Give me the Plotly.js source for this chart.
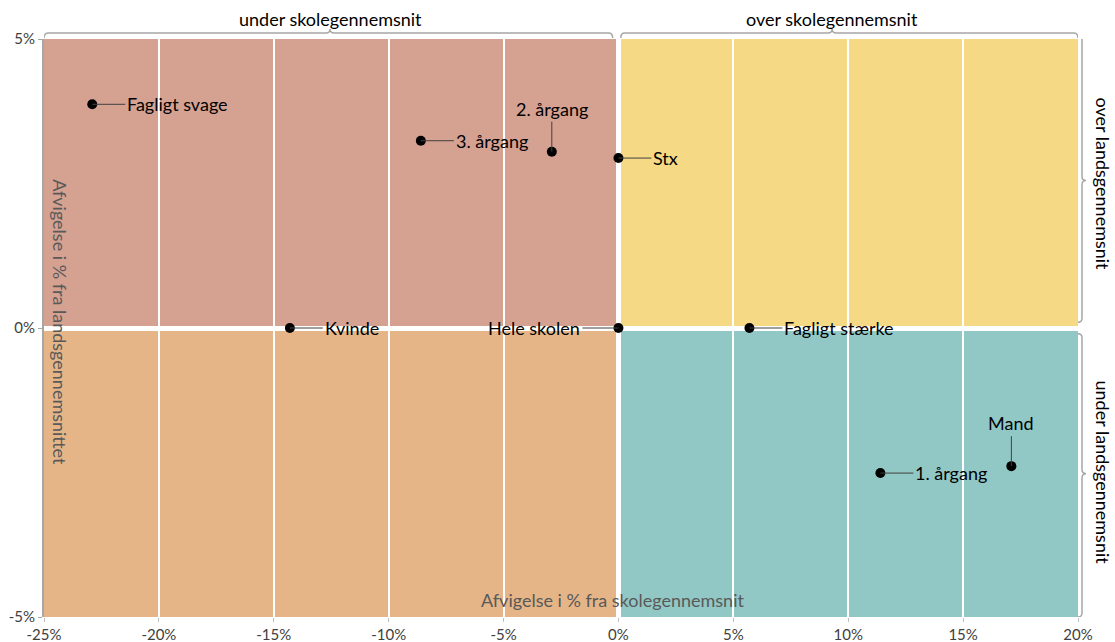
<!DOCTYPE html>
<html><head><meta charset="utf-8">
<script src="https://cdn.plot.ly/plotly-3.0.1.min.js"></script>
<style>html,body{margin:0;padding:0;background:#fff}#chart{width:1115px;height:642px}</style>
</head><body><div id="chart"></div>
<script>
// Data
var labels = ['Fagligt svage','3. årgang','2. årgang','Stx','Kvinde','Hele skolen','Fagligt stærke','1. årgang','Mand'];
var xSchool = [-22.9, -8.6, -2.9, 0, -14.3, 0, 5.7, 11.4, 17.1];
var yNation = [3.87, 3.24, 3.05, 2.94, 0, 0, 0, -2.51, -2.39];
var labelDir = ['right','right','up','right','right','left','right','right','up'];
var xTickVals = [-25,-20,-15,-10,-5,0,5,10,15,20];
var xTickText = ['-25%','-20%','-15%','-10%','-5%','0%','5%','10%','15%','20%'];
var yTickVals = [-5,0,5];
var yTickText = ['-5%','0%','5%'];
var quadColors = {ul:'#D5A191', ur:'#F5D985', ll:'#E5B588', lr:'#91C8C5'};
var xRange = [-25,20], yRange = [-5,5];

var FONT = 'Lato, "Open Sans", sans-serif';
var trace = {x:xSchool, y:yNation, mode:'markers', type:'scatter',
  marker:{color:'#000', size:10}, hoverinfo:'skip', cliponaxis:false};

var annotations = labels.map(function(t,i){
  var a = {x:xSchool[i], y:yNation[i], xref:'x', yref:'y', text:t, showarrow:true,
    arrowhead:0, arrowwidth:1, arrowcolor:'#404040', standoff:0,
    font:{family:FONT, size:18, color:'#000'}, borderpad:1};
  if(labelDir[i]==='right'){a.ax=33; a.ay=0; a.xanchor='left';}
  else if(labelDir[i]==='left'){a.ax=-36; a.ay=0; a.xanchor='right';}
  else {a.ax=0; a.ay=-30; a.yanchor='bottom';}
  return a;
});
var gray='#595959';
annotations.push(
  {xref:'paper', yref:'paper', x:0.0155, y:0.51, xanchor:'center', yanchor:'middle', text:'Afvigelse i % fra landsgennemsnittet', textangle:90,
   showarrow:false, font:{family:FONT, size:18, color:gray}},
  {xref:'paper', yref:'paper', x:0.550, y:0.029, xanchor:'center', yanchor:'middle', text:'Afvigelse i % fra skolegennemsnit',
   showarrow:false, font:{family:FONT, size:18, color:gray}},
  {xref:'x', yref:'paper', x:-12.55, y:1.0, yshift:20, xanchor:'center', yanchor:'middle', text:'under skolegennemsnit', showarrow:false,
   font:{family:FONT, size:18, color:'#000'}},
  {xref:'x', yref:'paper', x:9.3, y:1.0, yshift:20, xanchor:'center', yanchor:'middle', text:'over skolegennemsnit', showarrow:false,
   font:{family:FONT, size:18, color:'#000'}},
  {xref:'paper', yref:'y', x:1.0, xshift:25, y:2.5, xanchor:'center', yanchor:'middle', text:'over landsgennemsnit', textangle:90, showarrow:false,
   font:{family:FONT, size:18, color:'#000'}},
  {xref:'paper', yref:'y', x:1.0, xshift:25, y:-2.5, xanchor:'center', yanchor:'middle', text:'under landsgennemsnit', textangle:90, showarrow:false,
   font:{family:FONT, size:18, color:'#000'}}
);

function hBrace(x0,x1,xm){
  var y0=1+1/578, y1=1+6/578, y2=1+10/578, d=0.18;
  return 'M'+x0+','+y0+' Q'+x0+','+y1+' '+(x0+d)+','+y1+' L'+(xm-d)+','+y1+
    ' Q'+xm+','+y1+' '+xm+','+y2+' Q'+xm+','+y1+' '+(xm+d)+','+y1+
    ' L'+(x1-d)+','+y1+' Q'+x1+','+y1+' '+x1+','+y0;
}
function vBrace(y0,y1,ym){
  var x0=1.0, x1=1+4/1034, x2=1+8/1034, d=0.07;
  return 'M'+x0+','+y0+' Q'+x1+','+y0+' '+x1+','+(y0-d)+' L'+x1+','+(ym+d)+
    ' Q'+x1+','+ym+' '+x2+','+ym+' Q'+x1+','+ym+' '+x1+','+(ym-d)+
    ' L'+x1+','+(y1+d)+' Q'+x1+','+y1+' '+x0+','+y1;
}
var shapes = [
  {type:'rect', xref:'x', yref:'y', x0:xRange[0], x1:0, y0:0, y1:yRange[1], fillcolor:quadColors.ul, line:{width:0}, layer:'below'},
  {type:'rect', xref:'x', yref:'y', x0:0, x1:xRange[1], y0:0, y1:yRange[1], fillcolor:quadColors.ur, line:{width:0}, layer:'below'},
  {type:'rect', xref:'x', yref:'y', x0:xRange[0], x1:0, y0:yRange[0], y1:0, fillcolor:quadColors.ll, line:{width:0}, layer:'below'},
  {type:'rect', xref:'x', yref:'y', x0:0, x1:xRange[1], y0:yRange[0], y1:0, fillcolor:quadColors.lr, line:{width:0}, layer:'below'},
  {type:'path', xref:'x', yref:'paper', path:hBrace(-25,-0.25,-12.55), line:{color:'#a6a6a6', width:1.5}},
  {type:'path', xref:'x', yref:'paper', path:hBrace(0.1,20,9.3), line:{color:'#a6a6a6', width:1.5}},
  {type:'path', xref:'paper', yref:'y', path:vBrace(5.1,0.1,2.55), line:{color:'#a6a6a6', width:1.5}},
  {type:'path', xref:'paper', yref:'y', path:vBrace(-0.1,-5,-2.52), line:{color:'#a6a6a6', width:1.5}}
];

var layout = {
  width:1115, height:642,
  margin:{l:44, r:37, t:39, b:25},
  paper_bgcolor:'#fff', plot_bgcolor:'#fff',
  showlegend:false,
  font:{family:FONT, size:15, color:'#404040'},
  xaxis:{range:xRange, tickvals:xTickVals, ticktext:xTickText, showgrid:true, gridcolor:'#fff', gridwidth:2,
    zeroline:true, zerolinecolor:'#fff', zerolinewidth:5, showline:false, ticks:'outside', ticklen:4,
    tickcolor:'#bfbfbf', tickfont:{family:FONT, size:15, color:'#404040'}, fixedrange:true},
  yaxis:{range:yRange, tickvals:yTickVals, ticktext:yTickText, showgrid:false,
    zeroline:true, zerolinecolor:'#fff', zerolinewidth:5, showline:true, linecolor:'#a6a6a6', linewidth:2,
    ticks:'outside', ticklen:4, tickcolor:'#a6a6a6', tickfont:{family:FONT, size:15, color:'#404040'}, fixedrange:true},
  shapes:shapes, annotations:annotations
};
Plotly.newPlot('chart',[trace],layout,{displayModeBar:false, staticPlot:true});
</script></body></html>
